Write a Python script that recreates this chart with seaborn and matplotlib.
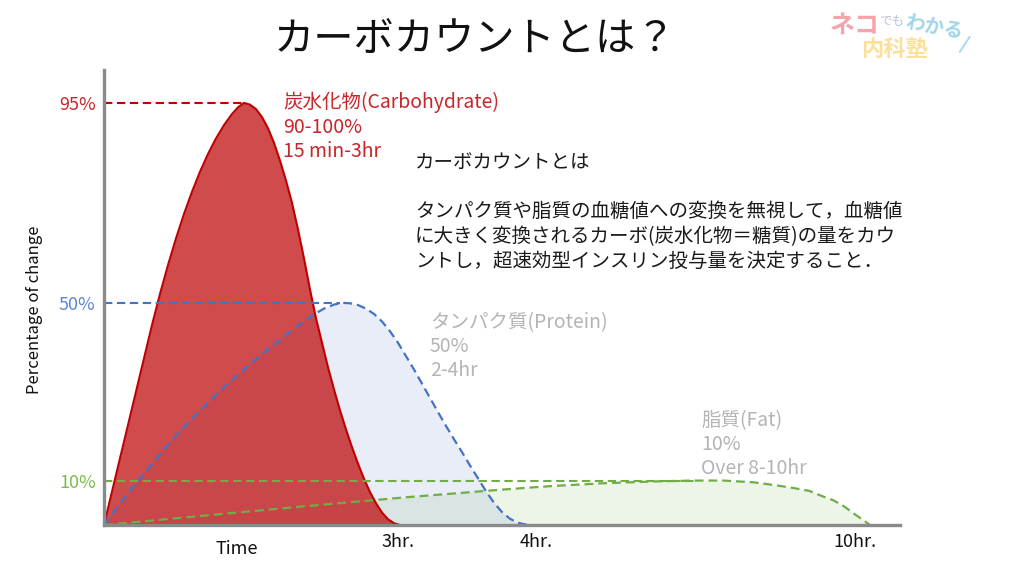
import matplotlib
matplotlib.use("Agg")
import matplotlib.pyplot as plt
import seaborn as sns
import pandas as pd

# horizontal position along the time axis (diagram units, 0 = meal), value in %
carb_x = [0, 8, 16, 24, 32, 40, 48, 56, 64, 72, 80, 88, 96, 104, 112, 120, 128, 134, 140, 146,
          152, 158, 164, 170, 176, 182, 188, 194, 200, 206, 212, 218, 224, 230, 236, 242, 248,
          254, 260, 266, 272, 278, 284, 290, 296]
carb_y = [0, 7.5, 15, 22.5, 30, 37.5, 45, 52, 58.5, 64.5, 70, 75, 79.5, 83.5, 87, 90, 92.5, 94, 95, 94.6,
          93.6, 91.8, 89.3, 86, 82, 77.5, 72.5, 66.5, 60, 53, 46.5, 41, 35.5, 30.5, 25.8, 21.5, 17.5,
          13.8, 10.4, 7.4, 4.9, 2.8, 1.3, 0.4, 0]

protein_x = [0, 10, 20, 30, 40, 50, 60, 70, 80, 90, 100, 110, 120, 130, 140, 150, 160, 170, 180, 190,
             200, 210, 220, 230, 238, 246, 254, 262, 270, 278, 286, 294, 302, 310, 318, 326, 334, 342,
             350, 358, 366, 374, 382, 390, 398, 406, 414, 424]
protein_y = [0, 3, 6, 8.9, 11.6, 14.3, 17, 19.6, 22, 24.4, 26.7, 28.9, 31, 33, 35, 36.9, 38.8, 40.6, 42.4, 44.2,
             45.9, 47.4, 48.7, 49.6, 50, 49.9, 49.5, 48.7, 47.5, 45.8, 43.6, 41, 38, 35, 31.8, 28.6, 25.4, 22.3,
             19.3, 16.4, 13.4, 10.5, 7.6, 5, 2.9, 1.4, 0.5, 0]

fat_x = [0, 50, 100, 150, 200, 250, 300, 350, 400, 450, 500, 550, 590, 620, 650, 670, 690, 705, 718,
         729, 740, 749, 758, 766]
fat_y = [0, 1.05, 2.1, 3.15, 4.2, 5.2, 6.2, 7.1, 8.0, 8.8, 9.4, 9.8, 10, 10, 9.6, 9.0, 8.3, 7.7, 6.5,
         5.6, 4.2, 2.7, 1.3, 0]

# peak reference levels: value, end of dashed guide
ref_levels = [95, 50, 10]
ref_ends = [140, 236, 590]
ref_colors = ["#c00000", "#4472c4", "#70ad47"]
ytick_labels = ["95%", "50%", "10%"]
ytick_colors = ["#c8262a", "#5b86d6", "#7cbc4c"]

xtick_pos = [294, 432, 751]
xtick_labels = ["3hr.", "4hr.", "10hr."]

title = "カーボカウントとは？"
carb_note = "炭水化物(Carbohydrate)\n90-100%\n15 min-3hr"
protein_note = "タンパク質(Protein)\n50%\n2-4hr"
fat_note = "脂質(Fat)\n10%\nOver 8-10hr"
body = ("カーボカウントとは\n\n"
        "タンパク質や脂質の血糖値への変換を無視して，血糖値\n"
        "に大きく変換されるカーボ(炭水化物＝糖質)の量をカウ\n"
        "ントし，超速効型インスリン投与量を決定すること．")

sns.set_theme(style="white")
plt.rcParams["font.family"] = ["Noto Sans CJK JP", "DejaVu Sans"]


def fx(px):
    return px / 1024


def fy(py):
    return 1 - py / 571


carb = pd.DataFrame({"t": carb_x, "v": carb_y})
protein = pd.DataFrame({"t": protein_x, "v": protein_y})
fat = pd.DataFrame({"t": fat_x, "v": fat_y})

fig = plt.figure(figsize=(10.24, 5.71), dpi=100)
ax = fig.add_axes([fx(104), fy(525), 796 / 1024, 455 / 571])

dash = (0, (4, 2.2))

# light fills first, then dashed outlines, red area on top
ax.fill_between(fat["t"], fat["v"], color="#70ad47", alpha=0.12, lw=0)
ax.fill_between(protein["t"], protein["v"], color="#4472c4", alpha=0.12, lw=0)
sns.lineplot(data=fat, x="t", y="v", ax=ax, color="#70ad47", lw=1.6, linestyle=dash, estimator=None)
sns.lineplot(data=protein, x="t", y="v", ax=ax, color="#4472c4", lw=1.6, linestyle=dash, estimator=None)
ax.fill_between(carb["t"], carb["v"], color="#bf0e10", alpha=0.75, lw=0)
sns.lineplot(data=carb, x="t", y="v", ax=ax, color="#c00000", lw=1.5, estimator=None)

for lvl, end, c in zip(ref_levels, ref_ends, ref_colors):
    ax.plot([0, end], [lvl, lvl], color=c, lw=1.5, linestyle=dash)

ax.set_xlim(0, 796)
ax.set_ylim(0, 102.4)
ax.set_xlabel("")
ax.set_ylabel("")
ax.set_xticks(xtick_pos)
ax.set_xticklabels(xtick_labels, fontsize=13, color="#111111")
ax.set_yticks(ref_levels)
ax.set_yticklabels(ytick_labels, fontsize=13)
for lab, c in zip(ax.get_yticklabels(), ytick_colors):
    lab.set_color(c)
ax.tick_params(axis="both", length=0)
ax.tick_params(axis="x", pad=6)
ax.tick_params(axis="y", pad=6)

for side in ["top", "right"]:
    ax.spines[side].set_visible(False)
for side in ["left", "bottom"]:
    ax.spines[side].set_color("#8a8a8a")
    ax.spines[side].set_linewidth(2.4)

# texts
fig.text(fx(475), fy(40), title, ha="center", va="center", fontsize=29, color="#111111")
fig.text(fx(283), fy(92), carb_note, ha="left", va="top", fontsize=14, color="#c8262a", linespacing=1.2)
fig.text(fx(430), fy(312), protein_note, ha="left", va="top", fontsize=14, color="#b4b4b4", linespacing=1.2)
fig.text(fx(701), fy(410), fat_note, ha="left", va="top", fontsize=14, color="#b4b4b4", linespacing=1.2)
fig.text(fx(415), fy(152), body, ha="left", va="top", fontsize=14, color="#1a1a1a", linespacing=1.23)
fig.text(fx(237), fy(549), "Time", ha="center", va="center", fontsize=13, color="#111111")
fig.text(fx(35), fy(310), "Percentage of change", ha="center", va="center", rotation=90,
         fontsize=12, color="#111111")

# logo
fig.text(fx(830), fy(26), "ネコ", ha="left", va="center", fontsize=18, fontweight="bold", color="#f6a3ab")
fig.text(fx(879), fy(22), "でも", ha="left", va="center", fontsize=9, color="#b9c3d0")
fig.text(fx(904), fy(28), "わかる", ha="left", va="center", fontsize=14, fontweight="bold",
         color="#9fd6e8", rotation=-10)
fig.text(fx(958), fy(44), "/", ha="left", va="center", fontsize=13, fontweight="bold",
         color="#9fd6e8", rotation=-20)
fig.text(fx(861), fy(49), "内科塾", ha="left", va="center", fontsize=16, fontweight="bold", color="#fbe09a")

fig.savefig("out.png", dpi=100, facecolor="white")
